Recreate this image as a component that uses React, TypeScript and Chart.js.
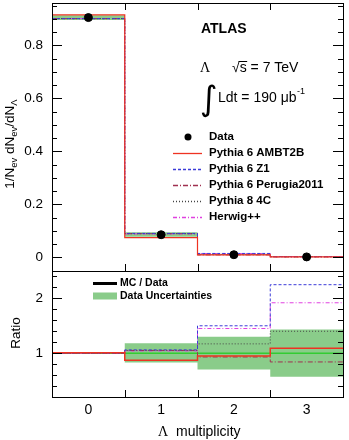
import React, { useEffect, useRef } from "react";
import { Chart, registerables } from "chart.js";
Chart.register(...registerables);

// ---------- data ----------
const binEdges = [-0.5, 0.5, 1.5, 2.5, 3.5];
const binCenters = [0, 1, 2, 3];
const xTickLabels = ["0", "1", "2", "3"];

const dataValues = [0.905, 0.085, 0.0095, 0.0012];
const dataBandLow = [0.896, 0.077, 0.008, 0.0008];
const dataBandHigh = [0.914, 0.094, 0.011, 0.0017];

const mcAmbt2b = [0.915, 0.074, 0.009, 0.0013];
const mcZ1 = [0.901, 0.09, 0.0143, 0.0027];
const mcPerugia = [0.901, 0.089, 0.0088, 0.001];
const mcPy8 = [0.901, 0.089, 0.0111, 0.0017];
const mcHerwig = [0.901, 0.088, 0.0138, 0.0023];

const ratioAmbt2b = [1.01, 0.87, 0.95, 1.09];
const ratioZ1 = [1.0, 1.06, 1.5, 2.25];
const ratioPerugia = [1.0, 1.05, 0.93, 0.84];
const ratioPy8 = [1.0, 1.05, 1.17, 1.4];
const ratioHerwig = [1.0, 1.04, 1.45, 1.92];
const ratioCenter = [1.0, 1.0, 1.0, 1.0];
const ratioBandLow = [0.99, 0.83, 0.7, 0.57];
const ratioBandHigh = [1.01, 1.18, 1.3, 1.43];

const seriesNames = ["Pythia 6 AMBT2B", "Pythia 6 Z1", "Pythia 6 Perugia2011", "Pythia 8 4C", "Herwig++"];

// ---------- styles ----------
const SANS = "'Liberation Sans', Arial, Helvetica, sans-serif";
const SERIF = "'Liberation Serif', 'Times New Roman', serif";
const seriesStyles = [
  { color: "#ee3322", dash: [] as number[] },
  { color: "#3b3bd8", dash: [3, 2] },
  { color: "#a03050", dash: [5, 2, 1, 2] },
  { color: "#444444", dash: [1, 2] },
  { color: "#e040e0", dash: [4, 2, 1, 2] },
];
const GREEN_FILL = "rgba(60,170,60,0.6)";

function steps(vals: number[]) {
  return binEdges.map((x, i) => ({ x, y: vals[Math.min(i, vals.length - 1)] }));
}

function stepLine(label: string, vals: number[], idx: number, width: number, order: number) {
  return {
    label,
    data: steps(vals),
    stepped: "before" as const,
    borderColor: seriesStyles[idx].color,
    borderDash: seriesStyles[idx].dash,
    borderWidth: width,
    pointRadius: 0,
    fill: false,
    order,
  };
}

function bandSets(low: number[], high: number[]) {
  return [
    { label: "bandHigh", data: steps(high), stepped: "before" as const, borderWidth: 0, borderColor: "rgba(0,0,0,0)", pointRadius: 0, fill: "+1", backgroundColor: GREEN_FILL, order: 20 },
    { label: "bandLow", data: steps(low), stepped: "before" as const, borderWidth: 0, borderColor: "rgba(0,0,0,0)", pointRadius: 0, fill: false, order: 21 },
  ];
}

const crisp = (v: number) => Math.round(v) + 0.5;

const noPad = (s: any) => {
  s.paddingTop = 0;
  s.paddingBottom = 0;
  s.paddingLeft = 0;
  s.paddingRight = 0;
};

function drawFrame(chart: any, yScale: any, minorStep: number, majorEvery: number, xTop: boolean, xBottom: boolean) {
  const ctx = chart.ctx;
  const { left, right, top, bottom } = chart.chartArea;
  const xs = chart.scales.x;
  ctx.save();
  ctx.strokeStyle = "#000";
  ctx.lineWidth = 1;
  ctx.setLineDash([]);
  ctx.strokeRect(crisp(left), crisp(top), Math.round(right) - Math.round(left), Math.round(bottom) - Math.round(top));
  const lo = Math.ceil(yScale.min / minorStep - 1e-6);
  const hi = Math.floor(yScale.max / minorStep + 1e-6);
  ctx.beginPath();
  for (let i = lo; i <= hi; i++) {
    const v = i * minorStep;
    const py = crisp(yScale.getPixelForValue(v));
    if (py <= top + 1 || py >= bottom - 1) continue;
    const len = i % majorEvery === 0 ? 10 : 5;
    ctx.moveTo(left, py);
    ctx.lineTo(left + len, py);
    ctx.moveTo(right, py);
    ctx.lineTo(right - len, py);
  }
  for (let k = 1; k < binEdges.length - 1; k++) {
    const px = crisp(xs.getPixelForValue(binEdges[k]));
    if (xTop) {
      ctx.moveTo(px, top);
      ctx.lineTo(px, top + 7);
    }
    if (xBottom) {
      ctx.moveTo(px, bottom);
      ctx.lineTo(px, bottom - 7);
    }
  }
  ctx.stroke();
  ctx.restore();
}

const topPlugin = {
  id: "topDecor",
  afterDraw(chart: any) {
    const ctx = chart.ctx;
    drawFrame(chart, chart.scales.y, 0.05, 4, true, true);
    ctx.save();
    ctx.fillStyle = "#000";
    ctx.textBaseline = "middle";
    ctx.textAlign = "left";
    // ATLAS label
    ctx.font = `bold 14px ${SANS}`;
    ctx.fillText("ATLAS", 201, 29);
    // Lambda, sqrt(s)
    ctx.font = `14px ${SERIF}`;
    ctx.fillText("Λ", 200, 68);
    ctx.font = `14px ${SANS}`;
    ctx.fillText("√", 232, 68);
    const sqrtW = ctx.measureText("√").width;
    ctx.fillText("s = 7 TeV", 232 + sqrtW, 68);
    const sW = ctx.measureText("s").width;
    ctx.beginPath();
    ctx.lineWidth = 1;
    ctx.moveTo(232 + sqrtW - 1, 61.5);
    ctx.lineTo(232 + sqrtW + sW + 0.5, 61.5);
    ctx.stroke();
    // integral
    ctx.font = `34px 'DejaVu Sans', ${SANS}`;
    ctx.fillText("∫", 200, 101);
    ctx.font = `14px ${SANS}`;
    const t1 = "Ldt = 190 μb";
    ctx.fillText(t1, 218, 98);
    const w1 = ctx.measureText(t1).width;
    ctx.font = `9px ${SANS}`;
    ctx.fillText("-1", 218 + w1 + 0.5, 92);

    // legend
    ctx.font = `bold 11.5px ${SANS}`;
    ctx.beginPath();
    ctx.arc(188, 137, 3.5, 0, Math.PI * 2);
    ctx.fill();
    ctx.fillText("Data", 209, 137);
    seriesNames.forEach((name, i) => {
      const y = 153 + 16 * i;
      ctx.save();
      ctx.strokeStyle = seriesStyles[i].color;
      ctx.setLineDash(seriesStyles[i].dash);
      ctx.lineWidth = 1.3;
      ctx.beginPath();
      ctx.moveTo(173, y + 0.5);
      ctx.lineTo(202, y + 0.5);
      ctx.stroke();
      ctx.restore();
      ctx.fillText(name, 209, y);
    });

    // y title
    ctx.translate(14, 144);
    ctx.rotate(-Math.PI / 2);
    const parts: [string, boolean][] = [
      ["1/N", false], ["ev", true], [" dN", false], ["ev", true], ["/dN", false], ["Λ", true],
    ];
    const big = `13.5px ${SANS}`;
    const small = `9.5px ${SANS}`;
    let total = 0;
    for (const [t, sub] of parts) {
      ctx.font = sub ? small : big;
      total += ctx.measureText(t).width;
    }
    let cx = -total / 2;
    ctx.textBaseline = "alphabetic";
    for (const [t, sub] of parts) {
      ctx.font = sub ? small : big;
      ctx.fillText(t, cx, sub ? 3 : 0);
      cx += ctx.measureText(t).width;
    }
    ctx.restore();
  },
};

const bottomPlugin = {
  id: "bottomDecor",
  afterDraw(chart: any) {
    const ctx = chart.ctx;
    drawFrame(chart, chart.scales.y, 0.2, 5, false, true);
    ctx.save();
    ctx.fillStyle = "#000";
    ctx.textBaseline = "middle";
    ctx.textAlign = "left";
    // legend
    ctx.font = `bold 10.5px ${SANS}`;
    ctx.strokeStyle = "#000";
    ctx.lineWidth = 3;
    ctx.beginPath();
    ctx.moveTo(93, 12.5);
    ctx.lineTo(117, 12.5);
    ctx.stroke();
    ctx.fillText("MC / Data", 120, 12.5);
    ctx.fillStyle = GREEN_FILL;
    ctx.fillRect(93, 21.5, 24, 7);
    ctx.fillStyle = "#000";
    ctx.fillText("Data Uncertainties", 120, 25);
    // x title
    ctx.font = `14px ${SERIF}`;
    ctx.fillText("Λ", 158, 161);
    ctx.font = `14px ${SANS}`;
    ctx.fillText("multiplicity", 176, 161);
    // y title
    ctx.translate(20, 62);
    ctx.rotate(-Math.PI / 2);
    ctx.textAlign = "center";
    ctx.textBaseline = "alphabetic";
    ctx.font = `13.5px ${SANS}`;
    ctx.fillText("Ratio", 0, 0);
    ctx.restore();
  },
};

export default function App() {
  const topRef = useRef<HTMLCanvasElement>(null);
  const botRef = useRef<HTMLCanvasElement>(null);

  useEffect(() => {
    const topChart = new Chart(topRef.current as HTMLCanvasElement, {
      type: "line",
      data: {
        datasets: [
          {
            label: "Data",
            data: binCenters.map((x, i) => ({ x, y: dataValues[i] })),
            showLine: false,
            pointRadius: 4,
            pointBackgroundColor: "#000",
            pointBorderColor: "#000",
            borderColor: "#000",
            order: 0,
          },
          stepLine(seriesNames[0], mcAmbt2b, 0, 1.2, 1),
          stepLine(seriesNames[1], mcZ1, 1, 1, 2),
          stepLine(seriesNames[2], mcPerugia, 2, 1, 3),
          stepLine(seriesNames[3], mcPy8, 3, 1, 4),
          stepLine(seriesNames[4], mcHerwig, 4, 1, 5),
          ...bandSets(dataBandLow, dataBandHigh),
        ] as any,
      },
      options: {
        responsive: false,
        maintainAspectRatio: false,
        animation: false,
        layout: { autoPadding: false, padding: { top: 3, right: 6, bottom: 0, left: 0 } },
        plugins: { legend: { display: false }, tooltip: { enabled: false } },
        scales: {
          x: { type: "linear", min: -0.5, max: 3.5, display: false },
          y: {
            type: "linear",
            min: -0.052,
            max: 0.96,
            grid: { display: false, drawTicks: false },
            border: { display: false },
            ticks: { stepSize: 0.2, includeBounds: false, padding: 9, color: "#000", font: { family: SANS, size: 13.5 } },
            afterFit: (s: any) => { s.width = 52; noPad(s); },
          },
        },
      },
      plugins: [topPlugin],
    } as any);

    const botChart = new Chart(botRef.current as HTMLCanvasElement, {
      type: "line",
      data: {
        datasets: [
          stepLine(seriesNames[0], ratioAmbt2b, 0, 1.5, 1),
          stepLine(seriesNames[1], ratioZ1, 1, 1, 2),
          stepLine(seriesNames[2], ratioPerugia, 2, 1, 3),
          stepLine(seriesNames[3], ratioPy8, 3, 1, 4),
          stepLine(seriesNames[4], ratioHerwig, 4, 1, 5),
          {
            label: "center",
            data: steps(ratioCenter),
            stepped: "before",
            borderColor: "#33cc33",
            borderWidth: 1.5,
            pointRadius: 0,
            fill: false,
            order: 8,
          },
          ...bandSets(ratioBandLow, ratioBandHigh),
        ] as any,
      },
      options: {
        responsive: false,
        maintainAspectRatio: false,
        animation: false,
        layout: { autoPadding: false, padding: { top: 0, right: 6, bottom: 0, left: 0 } },
        plugins: { legend: { display: false }, tooltip: { enabled: false } },
        scales: {
          x: {
            type: "linear",
            min: -0.5,
            max: 3.5,
            grid: { display: false, drawTicks: false },
            border: { display: false },
            afterBuildTicks: (s: any) => { s.ticks = binCenters.map((v) => ({ value: v })); },
            ticks: {
              padding: 5,
              color: "#000",
              font: { family: SANS, size: 14 },
              callback: (v: any) => xTickLabels[binCenters.indexOf(Number(v))] ?? "",
            },
            afterFit: (s: any) => { s.height = 43; noPad(s); },
          },
          y: {
            type: "linear",
            min: 0.2,
            max: 2.5,
            grid: { display: false, drawTicks: false },
            border: { display: false },
            ticks: { stepSize: 1, includeBounds: false, padding: 9, color: "#000", font: { family: SANS, size: 13.5 } },
            afterFit: (s: any) => { s.width = 52; noPad(s); },
          },
        },
      },
      plugins: [bottomPlugin],
    } as any);

    return () => {
      topChart.destroy();
      botChart.destroy();
    };
  }, []);

  return (
    <div style={{ position: "fixed", left: 0, top: 0, width: 349, height: 440, background: "#fff" }}>
      <canvas ref={topRef} width={349} height={271} style={{ position: "absolute", left: 0, top: 0 }} />
      <canvas ref={botRef} width={349} height={169} style={{ position: "absolute", left: 0, top: 271 }} />
    </div>
  );
}
